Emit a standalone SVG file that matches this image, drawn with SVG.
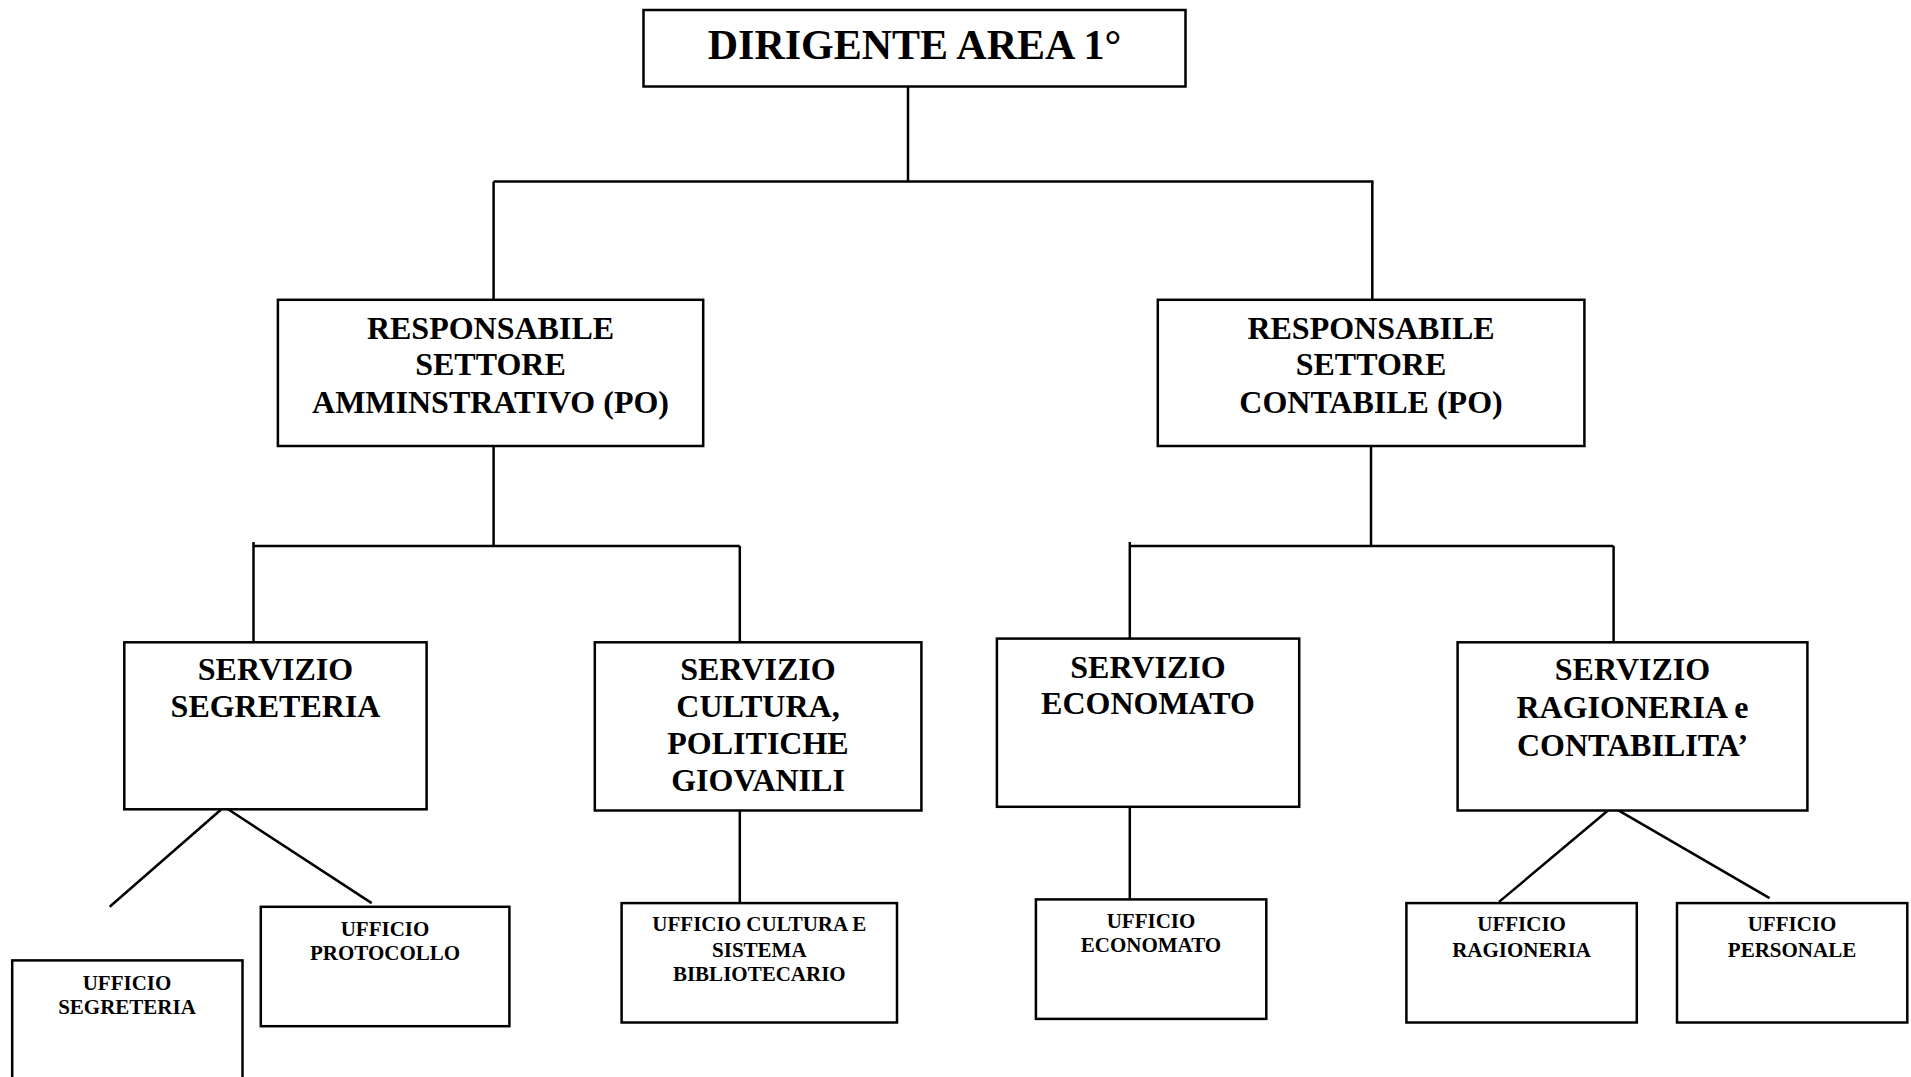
<svg xmlns="http://www.w3.org/2000/svg" width="1911" height="1077" viewBox="0 0 1911 1077">
<style>
.box{fill:#fff;stroke:#000;stroke-width:2.5}
.t{font-family:"Liberation Serif","Times New Roman",serif;font-weight:bold;text-anchor:middle;fill:#000}
.t1{font-size:42px}
.t2{font-size:32px}
.t4{font-size:21px}
.c{stroke:#000;stroke-width:2.5;fill:none}
</style>
<rect width="1911" height="1077" fill="#fff"/>
<g id="connectors">
<line class="c" x1="908" y1="86.5" x2="908" y2="181.6"/>
<line class="c" x1="493.6" y1="181.6" x2="1373.5" y2="181.6"/>
<line class="c" x1="493.6" y1="181.6" x2="493.6" y2="299.8"/>
<line class="c" x1="1372.3" y1="181.6" x2="1372.3" y2="299.8"/>
<line class="c" x1="493.6" y1="446" x2="493.6" y2="546"/>
<line class="c" x1="253.5" y1="546" x2="739.8" y2="546"/>
<line class="c" x1="253.5" y1="542" x2="253.5" y2="642.3"/>
<line class="c" x1="739.8" y1="546" x2="739.8" y2="642.3"/>
<line class="c" x1="1371" y1="446" x2="1371" y2="546"/>
<line class="c" x1="1129.8" y1="546" x2="1613.6" y2="546"/>
<line class="c" x1="1129.8" y1="542" x2="1129.8" y2="638.6"/>
<line class="c" x1="1613.6" y1="546" x2="1613.6" y2="642.3"/>
<line class="c" x1="224.3" y1="806.8" x2="109.7" y2="906.8"/>
<line class="c" x1="224.3" y1="806.8" x2="371.7" y2="903.1"/>
<line class="c" x1="739.8" y1="810.5" x2="739.8" y2="903.1"/>
<line class="c" x1="1129.8" y1="806.8" x2="1129.8" y2="899.4"/>
<line class="c" x1="1612.4" y1="806.8" x2="1499" y2="901.9"/>
<line class="c" x1="1612.4" y1="806.8" x2="1769.6" y2="898.2"/>
</g>
<g id="dirigente">
<rect class="box" x="643.5" y="10" width="542" height="76.5"/>
<text class="t t1" x="914.5" y="58.5">DIRIGENTE AREA 1°</text>
</g>
<g id="resp-amm">
<rect class="box" x="277.9" y="299.8" width="425.3" height="146.2"/>
<text class="t t2" x="490.5" y="338.8">RESPONSABILE</text>
<text class="t t2" x="490.5" y="375.4">SETTORE</text>
<text class="t t2" x="490.5" y="413.2">AMMINSTRATIVO (PO)</text>
</g>
<g id="resp-cont">
<rect class="box" x="1157.8" y="299.8" width="426.6" height="146.2"/>
<text class="t t2" x="1371" y="338.8">RESPONSABILE</text>
<text class="t t2" x="1371" y="375.4">SETTORE</text>
<text class="t t2" x="1371" y="413.2">CONTABILE (PO)</text>
</g>
<g id="serv-segreteria">
<rect class="box" x="124.3" y="642.3" width="302.3" height="167"/>
<text class="t t2" x="275.5" y="680">SERVIZIO</text>
<text class="t t2" x="275.5" y="716.6">SEGRETERIA</text>
</g>
<g id="serv-cultura">
<rect class="box" x="594.8" y="642.3" width="326.6" height="168.2"/>
<text class="t t2" x="758" y="680">SERVIZIO</text>
<text class="t t2" x="758" y="716.6">CULTURA,</text>
<text class="t t2" x="758" y="754.4">POLITICHE</text>
<text class="t t2" x="758" y="791">GIOVANILI</text>
</g>
<g id="serv-economato">
<rect class="box" x="996.9" y="638.6" width="302.3" height="168.2"/>
<text class="t t2" x="1148" y="677.6">SERVIZIO</text>
<text class="t t2" x="1148" y="714.2">ECONOMATO</text>
</g>
<g id="serv-ragioneria">
<rect class="box" x="1457.6" y="642.3" width="349.8" height="168.2"/>
<text class="t t2" x="1632.5" y="680">SERVIZIO</text>
<text class="t t2" x="1632.5" y="717.8">RAGIONERIA e</text>
<text class="t t2" x="1632.5" y="755.6">CONTABILITA’</text>
</g>
<g id="uff-segreteria">
<rect class="box" x="12.2" y="960.4" width="230.3" height="130"/>
<text class="t t4" x="127" y="989.6">UFFICIO</text>
<text class="t t4" x="127" y="1014">SEGRETERIA</text>
</g>
<g id="uff-protocollo">
<rect class="box" x="260.8" y="906.8" width="248.6" height="119.4"/>
<text class="t t4" x="385" y="936">UFFICIO</text>
<text class="t t4" x="385" y="960.4">PROTOCOLLO</text>
</g>
<g id="uff-cultura">
<rect class="box" x="621.6" y="903.1" width="275.4" height="119.4"/>
<text class="t t4" x="759.3" y="931.1">UFFICIO CULTURA E</text>
<text class="t t4" x="759.3" y="956.7">SISTEMA</text>
<text class="t t4" x="759.3" y="981">BIBLIOTECARIO</text>
</g>
<g id="uff-economato">
<rect class="box" x="1035.9" y="899.4" width="230.4" height="119.5"/>
<text class="t t4" x="1151" y="927.5">UFFICIO</text>
<text class="t t4" x="1151" y="951.8">ECONOMATO</text>
</g>
<g id="uff-ragioneria">
<rect class="box" x="1406.4" y="903.1" width="230.4" height="119.4"/>
<text class="t t4" x="1521.6" y="931.1">UFFICIO</text>
<text class="t t4" x="1521.6" y="956.7">RAGIONERIA</text>
</g>
<g id="uff-personale">
<rect class="box" x="1677" y="903.1" width="230.3" height="119.4"/>
<text class="t t4" x="1792" y="931.1">UFFICIO</text>
<text class="t t4" x="1792" y="956.7">PERSONALE</text>
</g>
</svg>
